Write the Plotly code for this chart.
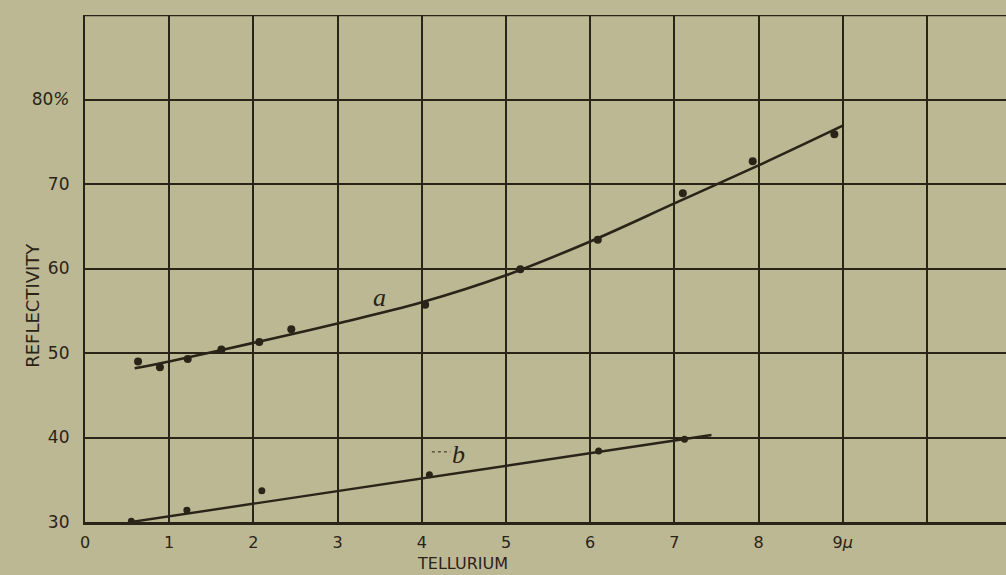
import plotly.graph_objects as go

# Tellurium reflectivity vs. wavelength (microns)
a_wavelength = [0.63, 0.89, 1.22, 1.62, 2.07, 2.45, 4.04, 5.17, 6.09, 7.10, 7.93, 8.90]
a_reflect = [49.0, 48.3, 49.3, 50.4, 51.3, 52.8, 55.7, 59.9, 63.4, 68.9, 72.7, 75.9]

b_wavelength = [0.55, 1.21, 2.10, 4.09, 6.10, 7.12]
b_reflect = [30.1, 31.4, 33.7, 35.6, 38.4, 39.8]

# drawn smooth curves through the observations
a_curve_x = [0.59, 1.0, 2.0, 3.0, 4.0, 5.0, 6.0, 7.0, 8.0, 9.0]
a_curve_y = [48.2, 49.0, 51.2, 53.5, 56.0, 59.2, 63.2, 67.7, 72.2, 76.9]
b_curve_x = [0.55, 7.44]
b_curve_y = [30.0, 40.3]

x_ticks = list(range(0, 11))
x_labels = ["0", "1", "2", "3", "4", "5", "6", "7", "8", "9<i>μ</i>", ""]
y_ticks = [30, 40, 50, 60, 70, 80, 90]
y_labels = ["30", "40", "50", "60", "70", "80<i>%</i>", ""]

INK = "#2a2318"
PAPER = "#bdb894"

fig = go.Figure()

fig.add_trace(go.Scatter(x=a_curve_x, y=a_curve_y, mode="lines",
                         line=dict(color=INK, width=2.6, shape="spline", smoothing=1.0),
                         hoverinfo="skip", showlegend=False))
fig.add_trace(go.Scatter(x=b_curve_x, y=b_curve_y, mode="lines",
                         line=dict(color=INK, width=2.4),
                         hoverinfo="skip", showlegend=False))
fig.add_trace(go.Scatter(x=a_wavelength, y=a_reflect, mode="markers",
                         marker=dict(color=INK, size=8), showlegend=False, name="a"))
fig.add_trace(go.Scatter(x=b_wavelength, y=b_reflect, mode="markers",
                         marker=dict(color=INK, size=7), showlegend=False, name="b"))

# curve labels
fig.add_annotation(x=3.5, y=56.6, text="<i>a</i>", showarrow=False,
                   font=dict(family="Liberation Serif", size=26, color=INK))
fig.add_annotation(x=4.44, y=38.0, text="<i>b</i>", showarrow=False,
                   font=dict(family="Liberation Serif", size=26, color=INK))
fig.add_shape(type="line", x0=4.12, x1=4.34, y0=38.3, y1=38.3,
              line=dict(color=INK, width=1, dash="dot"))

# top border of the ruled sheet
fig.add_shape(type="line", xref="paper", yref="y", x0=0, x1=1, y0=90, y1=90,
              line=dict(color=INK, width=2.6))

# axis titles
fig.add_annotation(xref="paper", yref="paper", x=(462 - 85) / 921, y=-(563 - 521.7) / 507,
                   text="TELLURIUM", showarrow=False, yanchor="middle",
                   font=dict(family="DejaVu Sans", size=16, color=INK))
fig.add_annotation(xref="paper", yref="paper", x=(20 - 85) / 921, y=(521.7 - 305) / 507,
                   text="REFLECTIVITY", showarrow=False, textangle=-90,
                   font=dict(family="DejaVu Sans", size=18, color=INK))

fig.update_layout(
    width=1006, height=575,
    margin=dict(l=85, r=0, t=15, b=53),
    paper_bgcolor=PAPER, plot_bgcolor=PAPER,
    font=dict(family="DejaVu Sans", color=INK),
    xaxis=dict(range=[0, 921 / 84.2], tickvals=x_ticks, ticktext=x_labels,
               showgrid=True, gridcolor=INK, gridwidth=1.5, zeroline=False,
               showline=True, linecolor=INK, linewidth=2.6,
               ticks="", ticklabelstandoff=4,
               tickfont=dict(size=16, color=INK)),
    yaxis=dict(range=[30, 90], tickvals=y_ticks, ticktext=y_labels,
               showgrid=True, gridcolor=INK, gridwidth=1.5, zeroline=False,
               showline=True, linecolor=INK, linewidth=2.2,
               ticks="", ticklabelstandoff=10,
               tickfont=dict(size=17, color=INK)),
)

fig.write_html("out.html")
